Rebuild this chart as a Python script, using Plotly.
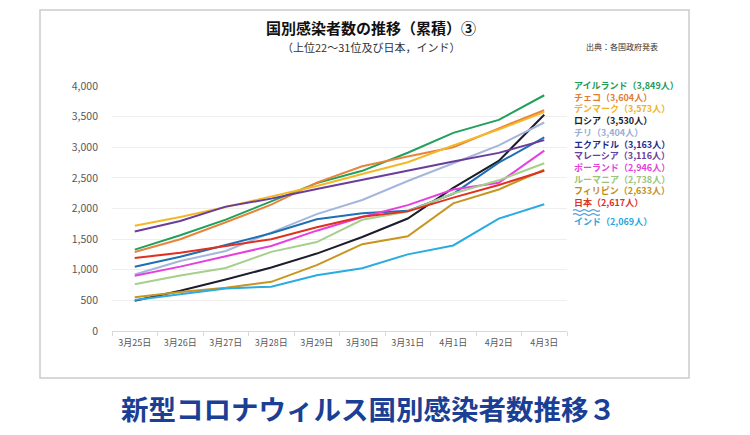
import plotly.graph_objects as go

# ---- data ----
dates = ["3月25日", "3月26日", "3月27日", "3月28日", "3月29日",
         "3月30日", "3月31日", "4月1日", "4月2日", "4月3日"]

ireland = [1329, 1564, 1819, 2121, 2415, 2615, 2910, 3235, 3447, 3849]
czech = [1289, 1497, 1775, 2062, 2422, 2689, 2850, 3001, 3308, 3604]
denmark = [1718, 1862, 2023, 2200, 2366, 2564, 2755, 3030, 3290, 3573]
russia = [495, 658, 840, 1036, 1264, 1534, 1836, 2337, 2777, 3530]
chile = [922, 1142, 1306, 1610, 1909, 2139, 2449, 2738, 3031, 3404]
ecuador = [1049, 1211, 1403, 1595, 1823, 1924, 1962, 2240, 2748, 3163]
malaysia = [1624, 1796, 2031, 2161, 2320, 2470, 2626, 2766, 2908, 3116]
poland = [901, 1051, 1221, 1389, 1638, 1862, 2055, 2311, 2420, 2946]
romania = [762, 906, 1029, 1292, 1452, 1815, 1952, 2245, 2460, 2738]
philippines = [552, 636, 707, 803, 1075, 1418, 1546, 2084, 2311, 2633]
japan = [1193, 1276, 1387, 1499, 1693, 1866, 1953, 2178, 2384, 2617]
india = [506, 606, 694, 724, 909, 1024, 1251, 1397, 1834, 2069]

names = ["アイルランド", "チェコ", "デンマーク", "ロシア", "チリ", "エクアドル",
         "マレーシア", "ポーランド", "ルーマニア", "フィリピン", "日本", "インド"]
series = [ireland, czech, denmark, russia, chile, ecuador,
          malaysia, poland, romania, philippines, japan, india]
line_colors = ["#21a05b", "#e8843c", "#f4b826", "#1c1c2c", "#a4b6dc", "#1f6fb4",
               "#6b3d9b", "#e63fde", "#a6cf8b", "#c8951f", "#e0301f", "#2aabe2"]
text_colors = ["#1f9a57", "#e07c36", "#f0b21e", "#1c1c2c", "#9aaed6", "#1d2b8f",
               "#6b3d9b", "#e63fde", "#98c47c", "#c08f1c", "#e0301f", "#2aa6de"]

title = "国別感染者数の推移（累積）③"
subtitle = "（上位22～31位及び日本，インド）"
source = "出典：各国政府発表"
banner = "新型コロナウィルス国別感染者数推移３"

FONT = "Noto Sans CJK JP"

# plot area in pixels
L, R, T, B = 112, 567, 86, 331
W, H = 750, 435


def px(x):
    return (x - L) / (R - L)


def py(y):
    return (B - y) / (B - T)


fig = go.Figure()
for name, vals, col in zip(names, series, line_colors):
    fig.add_trace(go.Scatter(x=dates, y=vals, mode="lines", name=name,
                             line=dict(color=col, width=2), showlegend=False))

# legend block (first 11 countries) as one multi-line text
LEG_FS = 9
lines = [f"<span style='color:{text_colors[i]}'><b>{names[i]}（{series[i][-1]:,}人）</b></span>"
         for i in range(11)]
block_h = LEG_FS * 1.3 * 11
annotations = [dict(
    x=px(573), y=py(80 + block_h / 2), xref="paper", yref="paper",
    xanchor="left", yanchor="middle", align="left", showarrow=False, borderpad=0,
    text="<br>".join(lines), font=dict(family=FONT, size=LEG_FS, color="#333333"))]
annotations.append(dict(
    x=px(573), y=py(221), xref="paper", yref="paper",
    xanchor="left", yanchor="middle", showarrow=False, borderpad=0,
    text=f"<b>{names[11]}（{series[11][-1]:,}人）</b>",
    font=dict(family=FONT, size=LEG_FS, color=text_colors[11])))

annotations += [
    dict(x=px(371), y=py(27), xref="paper", yref="paper", xanchor="center",
         yanchor="middle", showarrow=False, text=f"<b>{title}</b>", borderpad=0,
         font=dict(family=FONT, size=15, color="#111111")),
    dict(x=px(371), y=py(47.5), xref="paper", yref="paper", xanchor="center",
         yanchor="middle", showarrow=False, text=subtitle, borderpad=0,
         font=dict(family=FONT, size=11, color="#333333")),
    dict(x=px(584), y=py(46), xref="paper", yref="paper", xanchor="left",
         yanchor="middle", showarrow=False, text=source,
         font=dict(family=FONT, size=8, color="#333333")),
    dict(x=px(368), y=py(408), xref="paper", yref="paper", xanchor="center",
         yanchor="middle", showarrow=False, text=f"<b>{banner}</b>",
         font=dict(family=FONT, size=27.5, color="#1b3f94")),
]


def wave(x0, x1, yc, amp=1.6, n=3):
    step = (x1 - x0) / (2 * n)
    d = f"M {px(x0)},{py(yc)}"
    for k in range(2 * n):
        xa = x0 + step * (k + 0.5)
        xb = x0 + step * (k + 1)
        ya = yc - amp if k % 2 == 0 else yc + amp
        d += f" Q {px(xa)},{py(ya)} {px(xb)},{py(yc)}"
    return d


shapes = [
    dict(type="rect", xref="paper", yref="paper",
         x0=px(40), x1=px(689), y0=py(378), y1=py(10),
         line=dict(color="#cccccc", width=1.5), fillcolor="rgba(0,0,0,0)", layer="below"),
    dict(type="path", xref="paper", yref="paper", path=wave(573, 600, 210.5),
         line=dict(color="#5a9fd6", width=1.2)),
    dict(type="path", xref="paper", yref="paper", path=wave(573, 600, 214.5),
         line=dict(color="#5a9fd6", width=1.2)),
]

fig.update_layout(
    width=W, height=H,
    margin=dict(l=L, r=W - R, t=T, b=H - B),
    paper_bgcolor="white", plot_bgcolor="white",
    font=dict(family=FONT),
    annotations=annotations, shapes=shapes,
    xaxis=dict(type="category", range=[-0.5, 9.5], showgrid=False,
               showline=True, linecolor="#d9d9d9", linewidth=1,
               ticks="outside", ticklen=4, tickcolor="#d9d9d9", tickson="boundaries",
               ticklabelstandoff=3,
               tickfont=dict(family=FONT, size=9, color="#595959"), zeroline=False),
    yaxis=dict(range=[0, 4000], dtick=500, tickformat=",d", showgrid=True,
               gridcolor="#eeeeee", gridwidth=1, zeroline=False, showline=False,
               ticklabelstandoff=13,
               tickfont=dict(family=FONT, size=10.5, color="#595959")),
)

fig.write_html("out.html", config={"displayModeBar": False},
               post_script="document.body.style.margin='0';document.body.style.overflow='hidden';")
